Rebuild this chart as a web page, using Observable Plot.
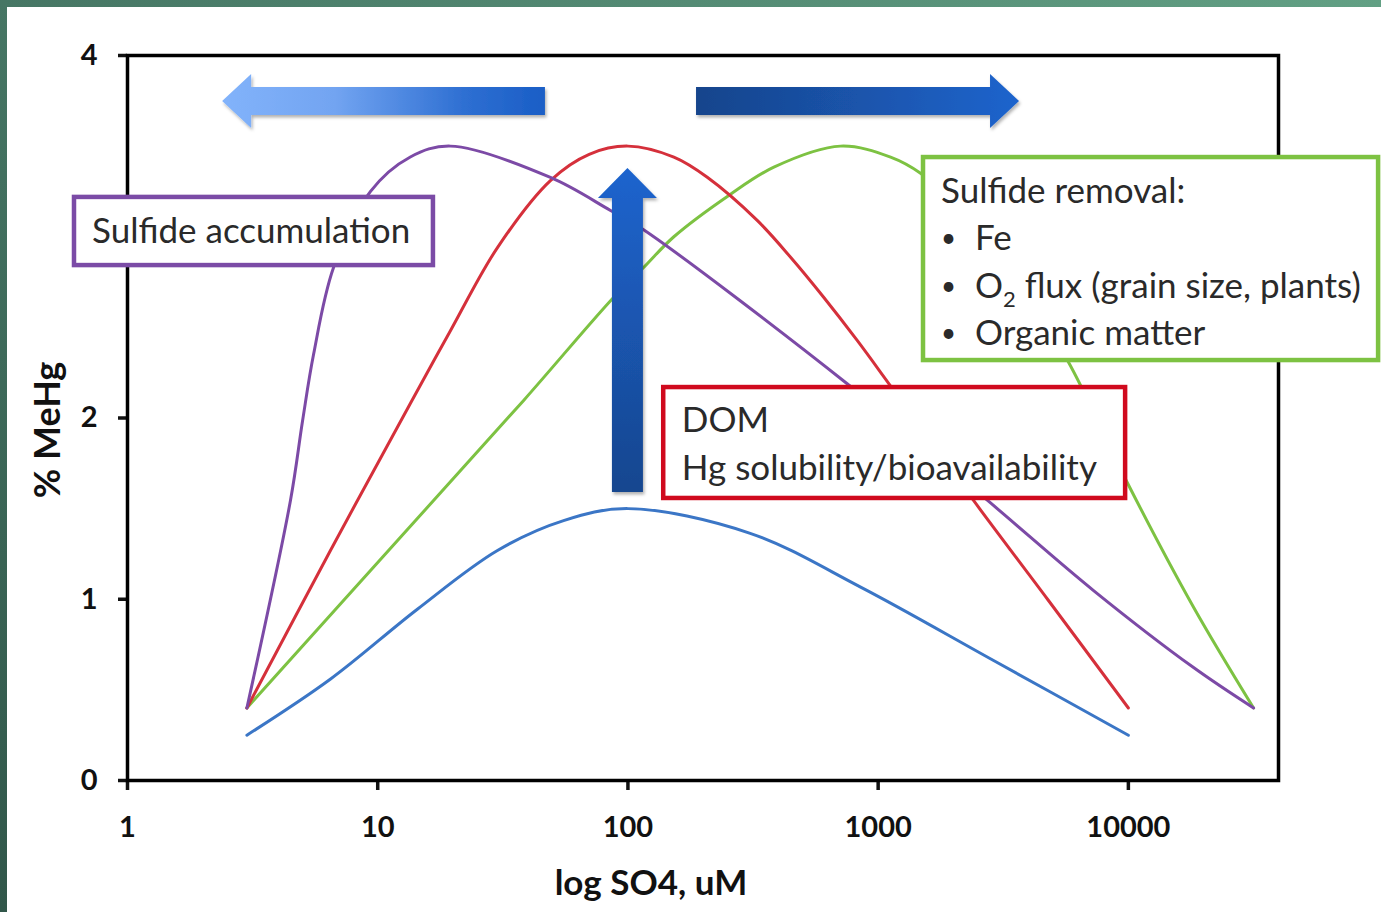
<!DOCTYPE html>
<html><head><meta charset="utf-8">
<script src="https://cdn.jsdelivr.net/npm/d3@7"></script>
<script src="https://cdn.jsdelivr.net/npm/@observablehq/plot@0.6"></script>
<style>
html,body{margin:0;padding:0;background:#fff;}
#wrap{position:relative;width:1381px;height:912px;overflow:hidden;background:#fff;}
#topband{position:absolute;left:0;top:0;width:1381px;height:7px;background:linear-gradient(to right,#467664,#62a084);}
#leftband{position:absolute;left:0;top:0;width:7px;height:912px;background:linear-gradient(to bottom,#467664,#31574a);}
svg text{font-family:Lato,"Open Sans",sans-serif;}
</style></head>
<body><div id="wrap"><div id="chart"></div><div id="topband"></div><div id="leftband"></div></div>
<script>
// ---- data ----
const seriesNames = ["base", "removal", "dom", "accumulation"];
const seriesColors = ["#3b76c6", "#7dc242", "#d5303b", "#7c4aa6"];

const baseSO4 = [3, 6.48, 14.4, 30.1, 55.3, 100, 306, 851, 2893, 10000];
const baseMeHg = [0.25, 0.56, 0.945, 1.269, 1.434, 1.5, 1.365, 1.067, 0.662, 0.25];

const domSO4 = [3, 6.48, 13.5, 19.5, 30.1, 49, 70, 100, 152.6, 207.5, 328.6, 446.7, 606.7, 824.6, 1103, 2405, 4753, 10000];
const domMeHg = [0.4, 1.27, 2.08, 2.48, 2.94, 3.31, 3.455, 3.5, 3.439, 3.328, 3.09, 2.887, 2.665, 2.428, 2.19, 1.545, 1.0, 0.4];

const accumulationSO4 = [3, 4.48, 5.01, 5.54, 6.66, 9.36, 13.5, 19.5, 49, 85.2, 112, 752, 2737, 7260, 18220, 31650];
const accumulationMeHg = [0.4, 1.545, 1.986, 2.35, 2.83, 3.25, 3.44, 3.5, 3.327, 3.145, 3.051, 2.189, 1.545, 1.048, 0.623, 0.4];

const removalSO4 = [3, 12, 38.3, 87.6, 115.5, 152.6, 253, 383, 707, 1121, 1477, 2340, 3707, 5714, 9930, 18220, 31650];
const removalMeHg = [0.4, 1.324, 2.097, 2.665, 2.83, 3.0, 3.228, 3.384, 3.5, 3.439, 3.35, 3.10, 2.72, 2.317, 1.64, 0.956, 0.4];

const xTicks = [1, 10, 100, 1000, 10000];
const yTicks = [0, 1, 2, 4];
const xLabel = "log SO4, uM";
const yLabel = "% MeHg";

// annotation anchors (data units)
const boxPurple = {x1: 0.614, x2: 16.7, y1: 3.217, y2: 2.841};
const boxRed = {x1: 139, x2: 9750, y1: 2.168, y2: 1.556};
const boxGreen = {x1: 1518, x2: 100000, y1: 3.437, y2: 2.317};
const arrowLeft = {x0: 46.8, x1: 2.40, y: 3.746};
const arrowRight = {x0: 188, x1: 3673, y: 3.746};
const arrowUp = {x: 100, y0: 1.589, y1: 3.377};

// ---- build table ----
const table = [];
const add = (name, xs, ys) => xs.forEach((v, i) => table.push({series: name, so4: v, mehg: ys[i]}));
add("base", baseSO4, baseMeHg);
add("removal", removalSO4, removalMeHg);
add("dom", domSO4, domMeHg);
add("accumulation", accumulationSO4, accumulationMeHg);

const font = "Lato, 'Open Sans', sans-serif";

const plot = Plot.plot({
  width: 1381,
  height: 912,
  marginLeft: 127,
  marginRight: 103,
  marginTop: 55,
  marginBottom: 132,
  style: {fontFamily: font, background: "transparent", color: "#111"},
  x: {type: "log", domain: [1, 10 ** 4.6]},
  y: {domain: [0, 4]},
  color: {domain: seriesNames, range: seriesColors},
  marks: [
    Plot.axisY({ticks: yTicks, tickFormat: d => String(d), tickSize: 9, tickPadding: 21, fontSize: 29, fontWeight: "bold", strokeWidth: 3.5, label: null, fill: "#111"}),
    Plot.axisX({ticks: xTicks, tickFormat: d => String(d), tickSize: 10, tickPadding: 26, fontSize: 29, fontWeight: "bold", strokeWidth: 3.5, label: null, fill: "#111"}),
    Plot.frame({stroke: "#000", strokeWidth: 3.5}),
    Plot.line(table, {x: "so4", y: "mehg", z: "series", stroke: "series", strokeWidth: 3, curve: "catmull-rom"}),
    Plot.text([yLabel], {frameAnchor: "left", textAnchor: "middle", dx: -79, dy: 12, rotate: -90, fontSize: 36, fontWeight: "bold", fill: "#111"}),
    Plot.text([xLabel], {frameAnchor: "bottom", textAnchor: "middle", dx: -52, dy: 103, fontSize: 35, fontWeight: "bold", fill: "#111", lineAnchor: "middle"})
  ]
});
document.getElementById("chart").appendChild(plot);

// ---- annotations drawn through the plot's scales ----
const sx = plot.scale("x"), sy = plot.scale("y");
const X = v => sx.apply(v), Y = v => sy.apply(v);
const svg = d3.select(plot);
const defs = svg.append("defs");
const shadow = defs.append("filter").attr("id", "shd").attr("x", "-20%").attr("y", "-20%").attr("width", "140%").attr("height", "140%");
shadow.append("feDropShadow").attr("dx", 1.5).attr("dy", 2.5).attr("stdDeviation", 1.8).attr("flood-color", "#000").attr("flood-opacity", 0.3);

function grad(id, x1, y1, x2, y2, stops) {
  const gr = defs.append("linearGradient").attr("id", id).attr("gradientUnits", "userSpaceOnUse")
    .attr("x1", x1).attr("y1", y1).attr("x2", x2).attr("y2", y2);
  stops.forEach(([o, c]) => gr.append("stop").attr("offset", o).attr("stop-color", c));
}
const g = svg.append("g").attr("text-anchor", "start");

// horizontal arrows
function hArrow(a, id, stops) {
  const x0 = X(a.x0), x1 = X(a.x1), y = Y(a.y);
  const d = Math.sign(x1 - x0), bh = 14, hh = 27, hl = 29, xb = x1 - d * hl;
  grad(id, Math.min(x0, x1), y, Math.max(x0, x1), y, stops);
  g.append("polygon").attr("points", [[x0, y - bh], [xb, y - bh], [xb, y - hh], [x1, y], [xb, y + hh], [xb, y + bh], [x0, y + bh]].map(p => p.join(",")).join(" "))
    .attr("fill", `url(#${id})`).attr("filter", "url(#shd)");
}
hArrow(arrowLeft, "gl", [["0%", "#82b3fb"], ["35%", "#72a4f1"], ["75%", "#2e6fd2"], ["100%", "#1a5ec6"]]);
hArrow(arrowRight, "gr", [["0%", "#17448c"], ["50%", "#1a54ab"], ["100%", "#1f64cd"]]);

// vertical arrow
{
  const x = X(arrowUp.x), y0 = Y(arrowUp.y0), y1 = Y(arrowUp.y1);
  const bw = 15.5, hw = 29.5, hl = 30, yb = y1 + hl;
  grad("gu", x, y1, x, y0, [["0%", "#1d64ce"], ["100%", "#17468f"]]);
  g.append("polygon").attr("points", [[x - bw, y0], [x - bw, yb], [x - hw, yb], [x, y1], [x + hw, yb], [x + bw, yb], [x + bw, y0]].map(p => p.join(",")).join(" "))
    .attr("fill", "url(#gu)").attr("filter", "url(#shd)");
}

// boxes
function box(b, color) {
  g.append("rect").attr("x", X(b.x1)).attr("y", Y(b.y1)).attr("width", X(b.x2) - X(b.x1)).attr("height", Y(b.y2) - Y(b.y1))
    .attr("fill", "#fff").attr("stroke", color).attr("stroke-width", 4.5);
}
box(boxPurple, "#7b4ba6");
box(boxRed, "#d00a1e");
box(boxGreen, "#7dc242");

function txt(xv, yv, s, size = 35) {
  return g.append("text").attr("x", X(xv)).attr("y", Y(yv)).attr("font-size", size).attr("fill", "#2a2a2a").attr("text-anchor", "start").text(s);
}
txt(0.725, 2.963, "Sulfide accumulation");
txt(165, 1.92, "DOM");
txt(165, 1.655, "Hg solubility/bioavailability");
txt(1792, 3.183, "Sulfide removal:");
const bulletX = 1792, itemX = 2449;
[[2.924, "Fe"], [2.659, null], [2.40, "Organic matter"]].forEach(([yv, s]) => {
  txt(bulletX, yv, "•", 26).attr("dy", -3);
  if (s) txt(itemX, yv, s);
  else {
    const t = txt(itemX, yv, "O");
    t.append("tspan").attr("dy", 9).attr("font-size", 22).text("2");
    t.append("tspan").attr("dy", -9).text(" flux (grain size, plants)");
  }
});
</script>
</body></html>
